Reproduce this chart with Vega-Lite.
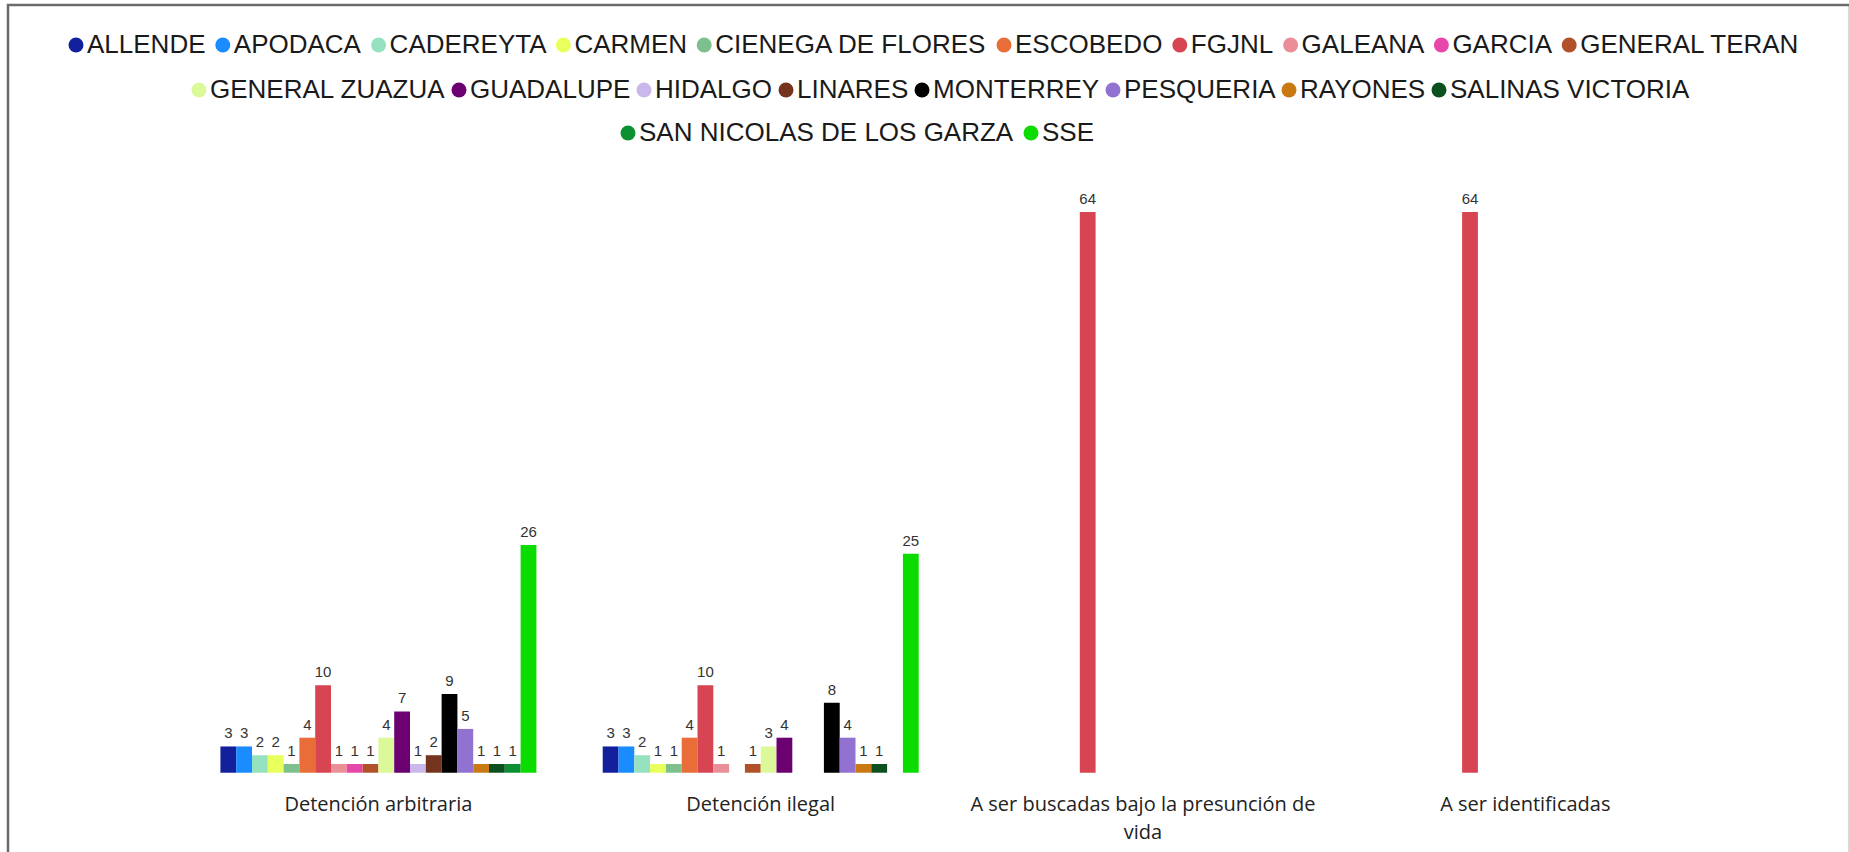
{
  "$schema": "https://vega.github.io/schema/vega-lite/v6.json",
  "autosize": {"type": "none"},
  "width": 1842,
  "height": 857,
  "padding": {"left": 8, "top": 5, "right": -1, "bottom": -10},
  "background": "white",
  "config": {"view": {"stroke": "#6b6b6b", "strokeWidth": 2.5}, "font": "Liberation Sans"},
  "data": {"values": [
    {"tipo": "Detención arbitraria", "municipio": "ALLENDE", "valor": 3},
    {"tipo": "Detención arbitraria", "municipio": "APODACA", "valor": 3},
    {"tipo": "Detención arbitraria", "municipio": "CADEREYTA", "valor": 2},
    {"tipo": "Detención arbitraria", "municipio": "CARMEN", "valor": 2},
    {"tipo": "Detención arbitraria", "municipio": "CIENEGA DE FLORES", "valor": 1},
    {"tipo": "Detención arbitraria", "municipio": "ESCOBEDO", "valor": 4},
    {"tipo": "Detención arbitraria", "municipio": "FGJNL", "valor": 10},
    {"tipo": "Detención arbitraria", "municipio": "GALEANA", "valor": 1},
    {"tipo": "Detención arbitraria", "municipio": "GARCIA", "valor": 1},
    {"tipo": "Detención arbitraria", "municipio": "GENERAL TERAN", "valor": 1},
    {"tipo": "Detención arbitraria", "municipio": "GENERAL ZUAZUA", "valor": 4},
    {"tipo": "Detención arbitraria", "municipio": "GUADALUPE", "valor": 7},
    {"tipo": "Detención arbitraria", "municipio": "HIDALGO", "valor": 1},
    {"tipo": "Detención arbitraria", "municipio": "LINARES", "valor": 2},
    {"tipo": "Detención arbitraria", "municipio": "MONTERREY", "valor": 9},
    {"tipo": "Detención arbitraria", "municipio": "PESQUERIA", "valor": 5},
    {"tipo": "Detención arbitraria", "municipio": "RAYONES", "valor": 1},
    {"tipo": "Detención arbitraria", "municipio": "SALINAS VICTORIA", "valor": 1},
    {"tipo": "Detención arbitraria", "municipio": "SAN NICOLAS DE LOS GARZA", "valor": 1},
    {"tipo": "Detención arbitraria", "municipio": "SSE", "valor": 26},
    {"tipo": "Detención ilegal", "municipio": "ALLENDE", "valor": 3},
    {"tipo": "Detención ilegal", "municipio": "APODACA", "valor": 3},
    {"tipo": "Detención ilegal", "municipio": "CADEREYTA", "valor": 2},
    {"tipo": "Detención ilegal", "municipio": "CARMEN", "valor": 1},
    {"tipo": "Detención ilegal", "municipio": "CIENEGA DE FLORES", "valor": 1},
    {"tipo": "Detención ilegal", "municipio": "ESCOBEDO", "valor": 4},
    {"tipo": "Detención ilegal", "municipio": "FGJNL", "valor": 10},
    {"tipo": "Detención ilegal", "municipio": "GALEANA", "valor": 1},
    {"tipo": "Detención ilegal", "municipio": "GENERAL TERAN", "valor": 1},
    {"tipo": "Detención ilegal", "municipio": "GENERAL ZUAZUA", "valor": 3},
    {"tipo": "Detención ilegal", "municipio": "GUADALUPE", "valor": 4},
    {"tipo": "Detención ilegal", "municipio": "MONTERREY", "valor": 8},
    {"tipo": "Detención ilegal", "municipio": "PESQUERIA", "valor": 4},
    {"tipo": "Detención ilegal", "municipio": "RAYONES", "valor": 1},
    {"tipo": "Detención ilegal", "municipio": "SALINAS VICTORIA", "valor": 1},
    {"tipo": "Detención ilegal", "municipio": "SSE", "valor": 25},
    {"tipo": "A ser buscadas bajo la presunción de vida", "municipio": "FGJNL", "valor": 64},
    {"tipo": "A ser identificadas", "municipio": "FGJNL", "valor": 64}
  ]},
  "encoding": {
    "x": {
      "field": "tipo", "type": "nominal",
      "sort": ["Detención arbitraria", "Detención ilegal", "A ser buscadas bajo la presunción de vida", "A ser identificadas"],
      "scale": {"paddingInner": 0.1734, "paddingOuter": 0.4958, "align": 0.5603},
      "axis": {
        "orient": "bottom", "offset": -89.3, "domain": false, "ticks": false, "title": null,
        "labelAngle": 0, "labelFont": "Open Sans", "labelFontSize": 20, "labelColor": "#222222",
        "labelPadding": 22, "labelLimit": 600, "labelLineHeight": 28,
        "labelExpr": "datum.value == 'A ser buscadas bajo la presunción de vida' ? ['A ser buscadas bajo la presunción de', 'vida'] : datum.value"
      }
    },
    "xOffset": {
      "field": "municipio", "type": "nominal",
      "scale": {
        "domain": ["ALLENDE", "APODACA", "CADEREYTA", "CARMEN", "CIENEGA DE FLORES", "ESCOBEDO", "FGJNL", "GALEANA", "GARCIA", "GENERAL TERAN", "GENERAL ZUAZUA", "GUADALUPE", "HIDALGO", "LINARES", "MONTERREY", "PESQUERIA", "RAYONES", "SALINAS VICTORIA", "SAN NICOLAS DE LOS GARZA", "SSE"],
        "paddingInner": 0, "paddingOuter": 0
      }
    },
    "y": {
      "field": "valor", "type": "quantitative",
      "scale": {"domain": [-10.19, 87.64], "nice": false, "zero": false},
      "axis": null
    }
  },
  "layer": [
    {
      "transform": [{"filter": {"field": "municipio", "oneOf": ["ALLENDE", "APODACA", "CADEREYTA", "CARMEN", "CIENEGA DE FLORES", "ESCOBEDO", "FGJNL", "GALEANA", "GARCIA", "GENERAL TERAN"]}}],
      "mark": {"type": "bar"},
      "encoding": {
        "y2": {"datum": 0},
        "color": {
          "field": "municipio", "type": "nominal",
          "scale": {
            "domain": ["ALLENDE", "APODACA", "CADEREYTA", "CARMEN", "CIENEGA DE FLORES", "ESCOBEDO", "FGJNL", "GALEANA", "GARCIA", "GENERAL TERAN"],
            "range": ["#13209c", "#1a8cff", "#96e2c0", "#e9ff5c", "#7dc08e", "#e96d38", "#d74552", "#ea8f97", "#e548a8", "#b1512a"]
          },
          "legend": {
            "orient": "none", "legendX": 55, "legendY": 27, "direction": "horizontal", "columns": 10,
            "title": null, "symbolType": "circle", "symbolSize": 225, "symbolStrokeWidth": 0,
            "labelFont": "Liberation Sans", "labelFontSize": 26, "labelColor": "#1a1a1a", "labelOffset": -2,
            "columnPadding": 3.8, "labelLimit": 1000, "gridAlign": "none", "padding": 0
          }
        }
      }
    },
    {
      "transform": [{"filter": {"field": "municipio", "oneOf": ["GENERAL ZUAZUA", "GUADALUPE", "HIDALGO", "LINARES", "MONTERREY", "PESQUERIA", "RAYONES", "SALINAS VICTORIA"]}}],
      "mark": {"type": "bar"},
      "encoding": {
        "y2": {"datum": 0},
        "color": {
          "field": "municipio", "type": "nominal",
          "scale": {
            "domain": ["GENERAL ZUAZUA", "GUADALUPE", "HIDALGO", "LINARES", "MONTERREY", "PESQUERIA", "RAYONES", "SALINAS VICTORIA"],
            "range": ["#dcf99a", "#6c0070", "#c9b8e9", "#74341e", "#000000", "#9272d1", "#c97812", "#0c5020"]
          },
          "legend": {
            "orient": "none", "legendX": 178, "legendY": 72, "direction": "horizontal", "columns": 8,
            "title": null, "symbolType": "circle", "symbolSize": 225, "symbolStrokeWidth": 0,
            "labelFont": "Liberation Sans", "labelFontSize": 26, "labelColor": "#1a1a1a", "labelOffset": -2,
            "columnPadding": 0, "labelLimit": 1000, "gridAlign": "none", "padding": 0
          }
        }
      }
    },
    {
      "transform": [{"filter": {"field": "municipio", "oneOf": ["SAN NICOLAS DE LOS GARZA", "SSE"]}}],
      "mark": {"type": "bar"},
      "encoding": {
        "y2": {"datum": 0},
        "color": {
          "field": "municipio", "type": "nominal",
          "scale": {
            "domain": ["SAN NICOLAS DE LOS GARZA", "SSE"],
            "range": ["#0c9032", "#0bdc00"]
          },
          "legend": {
            "orient": "none", "legendX": 607, "legendY": 115, "direction": "horizontal", "columns": 2,
            "title": null, "symbolType": "circle", "symbolSize": 225, "symbolStrokeWidth": 0,
            "labelFont": "Liberation Sans", "labelFontSize": 26, "labelColor": "#1a1a1a", "labelOffset": -2,
            "columnPadding": 4, "labelLimit": 1000, "gridAlign": "none", "padding": 0
          }
        }
      }
    },
    {
      "mark": {"type": "text", "dy": -13, "fontSize": 15, "color": "#333333", "font": "Liberation Sans"},
      "encoding": {"text": {"field": "valor", "type": "quantitative"}}
    }
  ],
  "resolve": {"scale": {"color": "independent"}, "legend": {"color": "independent"}}
}
